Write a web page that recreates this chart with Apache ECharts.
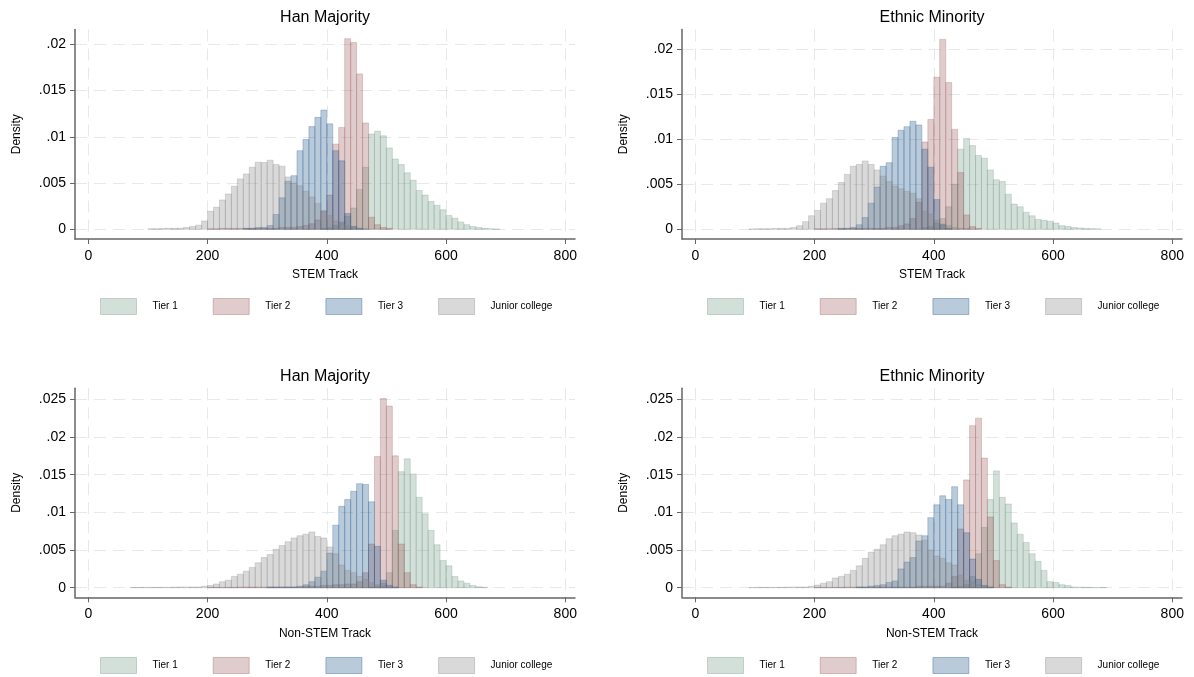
<!DOCTYPE html>
<html><head><meta charset="utf-8">
<script src="https://cdn.jsdelivr.net/npm/echarts@6/dist/echarts.min.js"></script>
<style>html,body{margin:0;padding:0;background:#fff}#c{width:1194px;height:677px}</style>
</head><body><div id="c"></div><script>
// ---------- data (bin width 10, each array starts at its *Start value) ----------
const binWidth = 10;
const seriesNames = ['Tier 1', 'Tier 2', 'Tier 3', 'Junior college'];
const xTicks = [0, 200, 400, 600, 800];
const yTicksTop = [0, 0.005, 0.01, 0.015, 0.02];
const yTicksBottom = [0, 0.005, 0.01, 0.015, 0.02, 0.025];
const panelTitles = ['Han Majority', 'Ethnic Minority', 'Han Majority', 'Ethnic Minority'];
const trackNames = ['STEM Track', 'STEM Track', 'Non-STEM Track', 'Non-STEM Track'];

// Han Majority, STEM
const hanStemTier1Start = 390;
const hanStemTier1 = [0.0001,0.0002,0.0004,0.0008,0.0014,0.0023,0.0043,0.0067,0.0103,0.0106,0.0101,0.0088,0.0076,0.0070,0.0061,0.0053,0.0042,0.0037,0.0030,0.0026,0.0021,0.0015,0.0012,0.0008,0.0005,0.0003,0.0002,0.0001,0.00005,0.00003];
const hanStemTier2Start = 200;
const hanStemTier2 = [0.00005,0.00005,0.0001,0.0001,0.0001,0.0001,0.0001,0.0001,0.0001,0.0001,0.0001,0.0001,0.0002,0.0002,0.0002,0.0003,0.0004,0.0006,0.0010,0.0020,0.0037,0.0092,0.0110,0.0206,0.0202,0.0168,0.0115,0.0013,0.0005,0.0002,0.0001];
const hanStemTier3Start = 260;
const hanStemTier3 = [0.0001,0.0001,0.0002,0.0002,0.0004,0.0016,0.0034,0.0052,0.0058,0.0085,0.0097,0.0111,0.0121,0.0129,0.0114,0.0085,0.0074,0.0017,0.0003,0.0001];
const hanStemJuniorStart = 100;
const hanStemJunior = [0.00005,0.00005,0.00008,0.0001,0.0001,0.00012,0.00018,0.0003,0.00045,0.0009,0.00195,0.00238,0.00317,0.00382,0.00465,0.00545,0.00599,0.00671,0.00725,0.00722,0.00747,0.0070,0.00682,0.00566,0.0050,0.0047,0.0041,0.0035,0.0028,0.0019,0.0015,0.0009,0.0006,0.0004,0.0002,0.0001,0.00005];

// Ethnic Minority, STEM
const ethStemTier1Start = 380;
const ethStemTier1 = [0.0002,0.0003,0.0007,0.0012,0.0025,0.0050,0.0089,0.0101,0.0093,0.0082,0.0079,0.0066,0.0055,0.0053,0.0039,0.0028,0.0025,0.0019,0.0015,0.0011,0.0010,0.0009,0.0007,0.0004,0.0003,0.0002,0.00015,0.0001,0.00007,0.00005];
const ethStemTier2Start = 200;
const ethStemTier2 = [0.00005,0.00005,0.00005,0.0001,0.0001,0.0001,0.0001,0.0001,0.0001,0.0001,0.0001,0.0001,0.0002,0.0002,0.0004,0.0006,0.0012,0.0030,0.0097,0.0122,0.0169,0.0211,0.0163,0.0111,0.0063,0.0016,0.0003,0.0001];
const ethStemTier3Start = 240;
const ethStemTier3 = [0.0001,0.0001,0.0002,0.0005,0.0013,0.0029,0.0047,0.0070,0.0074,0.0102,0.0110,0.0114,0.0120,0.0116,0.0089,0.0069,0.0033,0.0005,0.0001];
const ethStemJuniorStart = 90;
const ethStemJunior = [0.00003,0.00005,0.00005,0.00005,0.00008,0.0001,0.0001,0.0002,0.0004,0.00085,0.0015,0.0021,0.0029,0.0034,0.0043,0.0052,0.0061,0.0070,0.0072,0.0076,0.0072,0.0066,0.0059,0.0053,0.0048,0.0045,0.0042,0.0040,0.0034,0.0020,0.0017,0.0010,0.0006,0.0004,0.0002,0.0001,0.00005];

// Han Majority, Non-STEM
const hanNonTier1Start = 470;
const hanNonTier1 = [0.0001,0.0002,0.0006,0.0020,0.0076,0.0154,0.0171,0.0151,0.0120,0.0098,0.0076,0.0057,0.0036,0.0029,0.0015,0.0009,0.0006,0.0003,0.00013,0.00005];
const hanNonTier2Start = 200;
const hanNonTier2 = [0.00005,0.00005,0.00005,0.00005,0.00005,0.0001,0.0001,0.0001,0.0001,0.0001,0.0001,0.0001,0.0001,0.0001,0.0001,0.0001,0.0002,0.0002,0.0002,0.0003,0.0003,0.0004,0.0004,0.0005,0.0005,0.0008,0.0020,0.0058,0.0174,0.0251,0.0241,0.0175,0.0058,0.0020,0.0004,0.0001];
const hanNonTier3Start = 300;
const hanNonTier3 = [0.0001,0.0001,0.0001,0.0001,0.0001,0.0002,0.0004,0.0008,0.0014,0.0022,0.0046,0.0083,0.0108,0.0117,0.0128,0.0138,0.0137,0.0114,0.0055,0.0010,0.0003,0.0001];
const hanNonJuniorStart = 70;
const hanNonJunior = [0.00003,0.00003,0.00005,0.00005,0.00005,0.00005,0.00005,0.00008,0.0001,0.0001,0.0001,0.0001,0.0002,0.0003,0.0005,0.0008,0.0010,0.0015,0.0018,0.0022,0.0027,0.0033,0.0040,0.0044,0.0051,0.0056,0.0061,0.0066,0.0069,0.0071,0.0074,0.0068,0.0066,0.0054,0.0045,0.0030,0.0023,0.0020,0.0015,0.0011,0.0007,0.0004,0.0002,0.0001,0.00005];

// Ethnic Minority, Non-STEM
const ethNonTier1Start = 430;
const ethNonTier1 = [0.0001,0.0002,0.0004,0.0015,0.0045,0.0080,0.0117,0.0155,0.0120,0.0111,0.0086,0.0071,0.0060,0.0045,0.0035,0.0023,0.0008,0.0007,0.0004,0.0003,0.0001,0.00008,0.00005,0.00003,0.00003,0.00003];
const ethNonTier2Start = 200;
const ethNonTier2 = [0.00005,0.00005,0.00005,0.00005,0.00005,0.0001,0.0001,0.0001,0.0001,0.0001,0.0001,0.0001,0.0001,0.0001,0.0001,0.0001,0.0001,0.0002,0.0002,0.0002,0.0002,0.0002,0.0006,0.0015,0.0078,0.0143,0.0215,0.0225,0.0172,0.0094,0.0036,0.0004,0.0001];
const ethNonTier3Start = 270;
const ethNonTier3 = [0.0001,0.0001,0.0002,0.0003,0.0004,0.0007,0.0009,0.0025,0.0034,0.0040,0.0062,0.0069,0.0093,0.0110,0.0122,0.0117,0.0134,0.0110,0.0073,0.0038,0.0011,0.0003,0.0001];
const ethNonJuniorStart = 90;
const ethNonJunior = [0.00003,0.00005,0.00005,0.00005,0.00005,0.00005,0.00008,0.0001,0.0001,0.0001,0.0002,0.00035,0.0006,0.0008,0.0013,0.0015,0.0018,0.0023,0.0029,0.0039,0.0047,0.0051,0.0057,0.0065,0.0069,0.0071,0.0074,0.0073,0.0070,0.0063,0.0050,0.0042,0.0039,0.0033,0.0030,0.0017,0.0010,0.0008,0.0004,0.0002,0.0001];

// ---------- styling / layout ----------
const panelData = [
  [[hanStemTier1Start, hanStemTier1], [hanStemTier2Start, hanStemTier2], [hanStemTier3Start, hanStemTier3], [hanStemJuniorStart, hanStemJunior]],
  [[ethStemTier1Start, ethStemTier1], [ethStemTier2Start, ethStemTier2], [ethStemTier3Start, ethStemTier3], [ethStemJuniorStart, ethStemJunior]],
  [[hanNonTier1Start, hanNonTier1], [hanNonTier2Start, hanNonTier2], [hanNonTier3Start, hanNonTier3], [hanNonJuniorStart, hanNonJunior]],
  [[ethNonTier1Start, ethNonTier1], [ethNonTier2Start, ethNonTier2], [ethNonTier3Start, ethNonTier3], [ethNonJuniorStart, ethNonJunior]]
];
const baseColors = [[108,148,128],[152,85,85],[22,78,135],[128,128,128]];
const fillA = 0.3, strokeA = 0.25;
const rgba = (c, a) => `rgba(${c[0]},${c[1]},${c[2]},${a})`;
const FONT = '"Liberation Sans", Arial, Helvetica, sans-serif';
const layout = [
  {left: 75,  top: 29.5,  height: 209.5, yMin: -0.00105, yMax: 0.0216, ticks: yTicksTop,    legendTop: 298, legendLeft: 100, titleTop: 10},
  {left: 682, top: 29.5,  height: 209.5, yMin: -0.00108, yMax: 0.0222, ticks: yTicksTop,    legendTop: 298, legendLeft: 707, titleTop: 10},
  {left: 75,  top: 388.3, height: 209,   yMin: -0.00127, yMax: 0.02646, ticks: yTicksBottom, legendTop: 657, legendLeft: 100, titleTop: 369},
  {left: 682, top: 388.3, height: 209,   yMin: -0.00127, yMax: 0.02646, ticks: yTicksBottom, legendTop: 657, legendLeft: 707, titleTop: 369}
];
const GW = 500, XMIN = -22.3, XMAX = 816.3;
const axisCol = '#666666';
const gridCol = '#e8e8e8';

const fmtY = v => v === 0 ? '0' : String(+v.toFixed(4)).replace(/^0/, '');

function makeRender(ci) {
  return function (params, api) {
    const lo = api.coord([api.value(0), api.value(2)]);
    const hi = api.coord([api.value(1), 0]);
    return {
      type: 'rect',
      shape: {x: lo[0], y: lo[1], width: hi[0] - lo[0], height: hi[1] - lo[1]},
      style: {fill: rgba(baseColors[ci], fillA), stroke: rgba(baseColors[ci], strokeA), lineWidth: 1}
    };
  };
}

const option = {
  animation: false,
  backgroundColor: '#fff',
  textStyle: {fontFamily: FONT},
  title: [], grid: [], xAxis: [], yAxis: [], legend: [], series: []
};

layout.forEach((L, i) => {
  option.grid.push({left: L.left, top: L.top, width: GW, height: L.height, containLabel: false});
  option.title.push({
    text: panelTitles[i], left: L.left + GW / 2, top: L.titleTop, textAlign: 'center', padding: 0,
    textStyle: {fontSize: 16, fontWeight: 'normal', color: '#000', fontFamily: FONT}
  });
  option.xAxis.push({
    type: 'value', gridIndex: i, min: XMIN, max: XMAX,
    name: trackNames[i], nameLocation: 'middle', nameGap: 30,
    nameTextStyle: {fontSize: 12, color: '#000', fontFamily: FONT},
    axisLine: {show: true, onZero: false, lineStyle: {color: axisCol, width: 1.5}},
    axisTick: {show: true, length: 5, customValues: xTicks, lineStyle: {color: axisCol, width: 1}},
    axisLabel: {customValues: xTicks, fontSize: 14, color: '#000', margin: 10, fontFamily: FONT},
    splitLine: {show: true, lineStyle: {color: gridCol, width: 1, type: [12, 7]}}
  });
  option.yAxis.push({
    type: 'value', gridIndex: i, min: L.yMin, max: L.yMax,
    name: 'Density', nameLocation: 'middle', nameGap: 52, nameRotate: 90,
    nameTextStyle: {fontSize: 12, color: '#000', fontFamily: FONT},
    axisLine: {show: true, onZero: false, lineStyle: {color: axisCol, width: 1.5}},
    axisTick: {show: true, length: 5, customValues: L.ticks, lineStyle: {color: axisCol, width: 1}},
    axisLabel: {customValues: L.ticks, fontSize: 14, color: '#000', margin: 9, formatter: fmtY, fontFamily: FONT},
    splitLine: {show: true, lineStyle: {color: gridCol, width: 1, type: [12, 7]}}
  });
  option.legend.push({
    left: L.legendLeft, top: L.legendTop, orient: 'horizontal', selectedMode: false,
    itemWidth: 36, itemHeight: 16, itemGap: 35, icon: 'rect', padding: 0,
    textStyle: {fontSize: 10, color: '#000', fontFamily: FONT, padding: [0, 0, 0, 11]},
    data: seriesNames.map((n, ci) => ({
      name: n, icon: 'rect',
      itemStyle: {color: rgba(baseColors[ci], fillA), borderColor: rgba(baseColors[ci], 0.35), borderWidth: 1}
    }))
  });
  panelData[i].forEach((pair, ci) => {
    const start = pair[0], vals = pair[1];
    option.series.push({
      type: 'custom', name: seriesNames[ci], xAxisIndex: i, yAxisIndex: i,
      renderItem: makeRender(ci), clip: true,
      itemStyle: {color: rgba(baseColors[ci], fillA)},
      encode: {x: [0, 1], y: 2},
      data: vals.map((v, k) => [start + k * binWidth, start + (k + 1) * binWidth, v])
    });
  });
});

const chart = echarts.init(document.getElementById('c'), null, {renderer: 'canvas'});
chart.setOption(option);
</script></body></html>
